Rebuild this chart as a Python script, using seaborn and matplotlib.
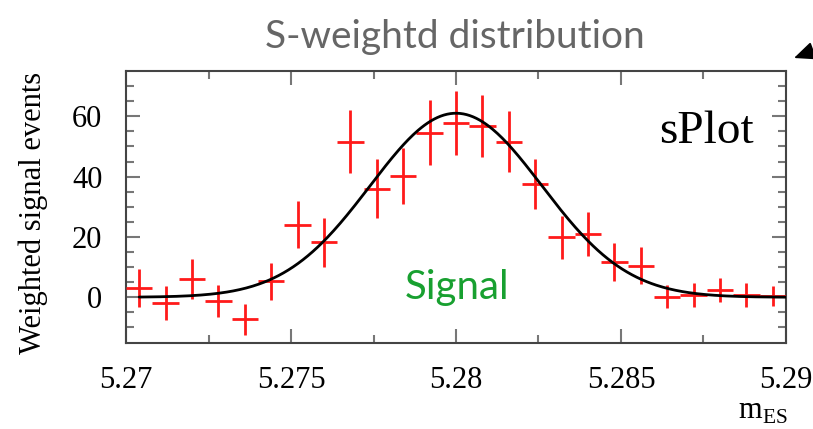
import numpy as np
import pandas as pd
import matplotlib
matplotlib.use("Agg")
import matplotlib.pyplot as plt
import seaborn as sns

# ---- data ----
bin_centers = [5.2704, 5.2712, 5.2720, 5.2728, 5.2736, 5.2744, 5.2752, 5.2760,
               5.2768, 5.2776, 5.2784, 5.2792, 5.2800, 5.2808, 5.2816, 5.2824,
               5.2832, 5.2840, 5.2848, 5.2856, 5.2864, 5.2872, 5.2880, 5.2888,
               5.2896]
weighted_events = [3.2, -1.8, 6.0, -1.2, -7.3, 5.3, 24.1, 18.2, 51.6, 36.0,
                   40.2, 54.5, 57.9, 56.8, 51.6, 37.6, 19.9, 21.0, 11.8, 10.4,
                   0.2, 0.7, 2.4, 0.7, 0.4]
event_errors = [6.3, 5.6, 6.6, 5.4, 5.2, 6.2, 7.7, 8.2, 10.4, 9.7, 9.3, 10.8,
                10.6, 10.4, 10.2, 8.2, 7.1, 7.3, 6.3, 6.1, 3.9, 3.9, 3.9, 3.9, 3.2]
bin_half_width = 0.0004

# Gaussian fit parameters
fit_amplitude = 61.0
fit_mean = 5.28
fit_sigma = 0.0026

x_ticks = [5.27, 5.275, 5.28, 5.285, 5.29]
x_tick_labels = ["5.27", "5.275", "5.28", "5.285", "5.29"]
y_ticks = [0, 20, 40, 60]
y_tick_labels = ["0", "20", "40", "60"]

title_text = "S-weightd distribution"
y_label = "Weighted signal events"

# ---- figure ----
sns.set_theme(style="ticks")
plt.rcParams["font.family"] = ["Liberation Serif", "DejaVu Serif"]
plt.rcParams["mathtext.fontset"] = "custom"
plt.rcParams["mathtext.rm"] = "Liberation Serif"

W, H = 813, 429
fig = plt.figure(figsize=(W / 100, H / 100), dpi=100)
ax = fig.add_axes([126 / W, 1 - 342.5 / H, 660 / W, 271.5 / H])

df_pts = pd.DataFrame({"x": bin_centers, "y": weighted_events, "err": event_errors})
ax.errorbar(df_pts["x"], df_pts["y"], yerr=df_pts["err"], xerr=bin_half_width,
            fmt="none", ecolor="#ff1a1a", elinewidth=2.0, capsize=0, zorder=3)

xf = np.linspace(bin_centers[0], 5.29, 400)
df_fit = pd.DataFrame({"x": xf,
                       "y": fit_amplitude * np.exp(-0.5 * ((xf - fit_mean) / fit_sigma) ** 2)})
sns.lineplot(data=df_fit, x="x", y="y", color="black", lw=2.0, ax=ax, zorder=4)

ax.set_xlim(5.27, 5.29)
ax.set_ylim(-15, 75)
ax.set_xlabel("")
ax.set_ylabel("")
ax.set_xticks(x_ticks)
ax.set_xticklabels(x_tick_labels)
ax.set_yticks(y_ticks)
ax.set_yticklabels(y_tick_labels)
ax.set_xticks([5.2725, 5.2775, 5.2825, 5.2875], minor=True)
ax.set_yticks([-10, -5, 5, 10, 15, 25, 30, 35, 45, 50, 55, 65, 70], minor=True)

for s in ax.spines.values():
    s.set_visible(True)
    s.set_color("#444444")
    s.set_linewidth(1.5)

ax.tick_params(which="both", direction="in", top=True, right=True,
               color="#777777", width=1.5)
ax.tick_params(which="major", length=10, labelsize=22, labelcolor="black")
ax.tick_params(which="minor", length=6)
ax.tick_params(axis="x", which="major", pad=17)
ax.tick_params(axis="y", which="major", pad=17)

# texts
fig.text(455 / W, 1 - 37 / H, title_text, ha="center", va="center",
         fontsize=28, color="#666666", family=["Lato", "DejaVu Sans"])
fig.text(33 / W, 1 - 213 / H, y_label, ha="center", va="center", rotation=90,
         fontsize=22, color="black")
fig.text(706 / W, 1 - 132 / H, "sPlot", ha="center", va="center",
         fontsize=34, color="black")
fig.text(457 / W, 1 - 287 / H, "Signal", ha="center", va="center",
         fontsize=29, color="#18a030", family=["Lato", "DejaVu Sans"])
fig.text(763 / W, 1 - 412 / H, r"$\mathrm{m}_{\mathrm{ES}}$", ha="center",
         va="center", fontsize=22, color="black")

ax.annotate("", xy=(794, H - 58), xytext=(813, H - 51),
            xycoords="figure pixels", textcoords="figure pixels",
            arrowprops=dict(arrowstyle="-|>,head_length=0.8,head_width=0.35",
                            color="black", lw=1.3, mutation_scale=16,
                            shrinkA=0, shrinkB=0),
            annotation_clip=False)

fig.savefig("out.png", dpi=100)
